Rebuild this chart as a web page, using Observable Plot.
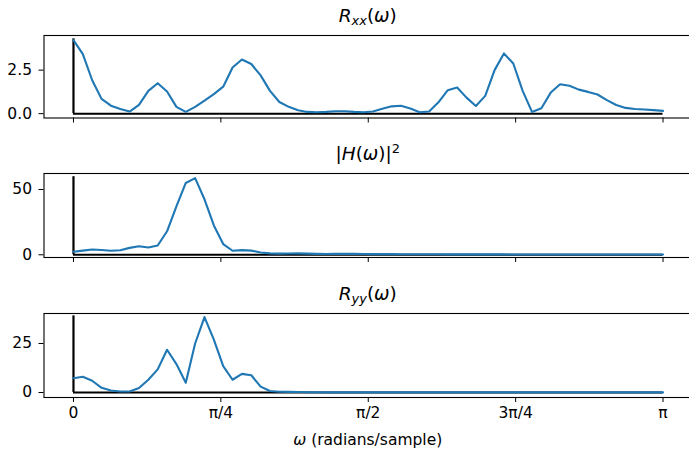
<!DOCTYPE html>
<html>
<head>
<meta charset="utf-8">
<script src="https://cdn.jsdelivr.net/npm/d3@7"></script>
<script src="https://cdn.jsdelivr.net/npm/@observablehq/plot@0.6"></script>
<style>
  html, body { margin: 0; padding: 0; background: #fff; overflow: hidden; }
  #chart { position: relative; width: 689px; height: 449px; overflow: hidden; font-family: "DejaVu Sans", sans-serif; color: #000; }
  .panel { position: absolute; left: 0; max-width: none !important; }
  .title { position: absolute; left: 367.75px; transform: translateX(-50%); font-size: 18.5px; line-height: 1; white-space: nowrap; }
  .xlabel { position: absolute; left: 367.75px; transform: translateX(-50%); font-size: 15.5px; line-height: 1; white-space: nowrap; }
  sub { font-size: 70%; vertical-align: -0.25em; line-height: 0; }
  sup { font-size: 70%; vertical-align: 0.55em; line-height: 0; }
</style>
</head>
<body>
<div id="chart"></div>
<script>
// frequency grid (64 samples from 0 to pi)
const nSamples = 64;
const omega = d3.range(nSamples).map(i => i * Math.PI / (nSamples - 1));

// R_xx(omega)
const rxx = [4.22, 3.42, 1.92, 0.85, 0.46, 0.27, 0.12, 0.5, 1.31, 1.75,
  1.27, 0.39, 0.1, 0.39, 0.75, 1.12, 1.55, 2.65, 3.11, 2.85,
  2.2, 1.31, 0.67, 0.39, 0.2, 0.1, 0.08, 0.1, 0.14, 0.14,
  0.1, 0.08, 0.12, 0.28, 0.42, 0.45, 0.3, 0.08, 0.12, 0.65,
  1.35, 1.5, 0.92, 0.44, 1.02, 2.5, 3.46, 2.88, 1.31, 0.1,
  0.31, 1.21, 1.69, 1.6, 1.38, 1.25, 1.1, 0.78, 0.5, 0.33,
  0.27, 0.24, 0.2, 0.16];

// |H(omega)|^2
const hsq = [2.3, 3.2, 4.0, 3.7, 3.1, 3.5, 5.3, 6.5, 5.6, 7.1,
  18, 37, 55, 58.7, 42.5, 22.5, 8.2, 3.1, 3.6, 3.2,
  1.8, 1.1, 0.9, 1.0, 1.1, 0.9, 0.7, 0.6, 0.7, 0.8,
  0.7, 0.6, 0.5, 0.5, 0.5, 0.45, 0.4, 0.4, 0.42, 0.4,
  0.36, 0.35, 0.33, 0.32, 0.3, 0.3, 0.29, 0.28, 0.27, 0.26,
  0.26, 0.25, 0.25, 0.24, 0.23, 0.23, 0.22, 0.22, 0.21, 0.21,
  0.2, 0.2, 0.2, 0.2];

// R_yy(omega)
const ryy = [7.3, 8.0, 6.0, 2.4, 1.0, 0.5, 0.5, 2.3, 6.5, 11.8,
  21.8, 14.5, 5.0, 25, 38.5, 27, 13.5, 6.5, 9.5, 8.8,
  3.0, 0.8, 0.4, 0.3, 0.25, 0.15, 0.1, 0.08, 0.08, 0.07,
  0.06, 0.05, 0.05, 0.05, 0.05, 0.05, 0.05, 0.05, 0.05, 0.05,
  0.05, 0.05, 0.05, 0.05, 0.05, 0.05, 0.05, 0.05, 0.05, 0.05,
  0.05, 0.05, 0.05, 0.05, 0.05, 0.05, 0.05, 0.05, 0.05, 0.05,
  0.05, 0.05, 0.05, 0.05];

// heights of the black vertical line at omega = 0
const stemTop = [4.3, 59.8, 39.1];

// axis ticks
const xTickValues = [0, Math.PI / 4, Math.PI / 2, 3 * Math.PI / 4, Math.PI];
const xTickLabels = ["0", "π/4", "π/2", "3π/4", "π"];
const yTicksTop = [0, 2.5];
const yTicksMid = [0, 50];
const yTicksBot = [0, 25];

const panels = [
  {values: rxx, domain: [-0.25, 4.49], ticks: yTicksTop, fmt: d => d.toFixed(1), stem: stemTop[0], frameTop: 34.7, frameBottom: 117.2, showX: false},
  {values: hsq, domain: [-2.07, 62.25], ticks: yTicksMid, fmt: d => String(d), stem: stemTop[1], frameTop: 172.7, frameBottom: 256.7, showX: false},
  {values: ryy, domain: [-2.55, 40.3], ticks: yTicksBot, fmt: d => String(d), stem: stemTop[2], frameTop: 312.7, frameBottom: 396.7, showX: true}
];

const titles = [
  {html: '<i>R</i><sub><i>xx</i></sub>(<i>ω</i>)', top: 7},
  {html: '|<i>H</i>(<i>ω</i>)|<sup>2</sup>', top: 145},
  {html: '<i>R</i><sub><i>yy</i></sub>(<i>ω</i>)', top: 285}
];

const chart = document.getElementById("chart");
const mt = 10, mb = 34;

panels.forEach(p => {
  const data = omega.map((w, i) => ({w, v: p.values[i]}));
  const svg = Plot.plot({
    width: 696,
    height: (p.frameBottom - p.frameTop) + mt + mb,
    marginLeft: 43.5,
    marginRight: 4,
    marginTop: mt,
    marginBottom: mb,
    style: {fontFamily: "DejaVu Sans", fontSize: "15.5px", color: "black", background: "transparent", maxWidth: "none"},
    x: {domain: [-0.05 * Math.PI, 1.05 * Math.PI]},
    y: {domain: p.domain},
    marks: [
      Plot.ruleY([{y: 0, x1: 0, x2: Math.PI}], {y: "y", x1: "x1", x2: "x2", stroke: "black", strokeWidth: 2}),
      Plot.ruleX([{x: 0, y1: 0, y2: p.stem}], {x: "x", y1: "y1", y2: "y2", stroke: "black", strokeWidth: 2.2}),
      Plot.line(data, {x: "w", y: "v", stroke: "#1f77b4", strokeWidth: 2.1}),
      Plot.frame({stroke: "black", strokeWidth: 1.1}),
      Plot.axisY({ticks: p.ticks, tickFormat: p.fmt, tickSize: 5, tickPadding: 7, label: null}),
      Plot.axisX({ticks: xTickValues, tickFormat: p.showX ? (d => xTickLabels[xTickValues.indexOf(d)]) : (() => ""), tickSize: 5, tickPadding: 4, label: null})
    ]
  });
  svg.classList.add("panel");
  svg.style.top = (p.frameTop - mt) + "px";
  chart.appendChild(svg);
});

titles.forEach(t => {
  const d = document.createElement("div");
  d.className = "title";
  d.style.top = t.top + "px";
  d.innerHTML = t.html;
  chart.appendChild(d);
});

const xl = document.createElement("div");
xl.className = "xlabel";
xl.style.top = "433px";
xl.innerHTML = '<i>ω</i> (radians/sample)';
chart.appendChild(xl);
</script>
</body>
</html>
